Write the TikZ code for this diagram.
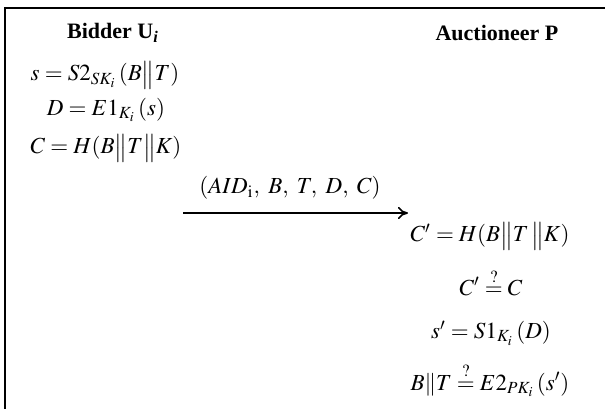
\documentclass[tikz,border=0pt]{standalone}
\usepackage{mathptmx}
\usepackage[no-math]{fontspec}
\setmainfont{Liberation Serif}
\usetikzlibrary{arrows.meta}
\tikzset{
  head/.style={font=\fontsize{11}{13}\selectfont\bfseries, anchor=center, inner sep=0pt},
  eq/.style={font=\fontsize{11.5}{13}\selectfont, anchor=center, inner sep=0pt},
  frame/.style={line width=1pt, black},
  msg/.style={line width=0.8pt, -{To[length=5pt,width=6pt]}},
}
\begin{document}
\begin{tikzpicture}[x=0.5pt,y=-0.5pt]
\useasboundingbox (0,0) rectangle (605,409);
\draw[frame] (605,8) -- (5,8) -- (5,409);
\node[head] (bidder) at (113,33) {Bidder U\textsubscript{\itshape i}};
\node[head] (auct) at (497,33) {Auctioneer P};
\node[eq] (b1) at (105,75) {$s=S2_{SK_i}\,(B\big\|T)$};
\node[eq] (b2) at (106,110) {$D=E1_{K_i}\,(s)$};
\node[eq] (b3) at (106,148) {$C=H(B\big\|T\big\|K)$};
\node[eq] (lab) at (290,188) {$(AID_{\mathrm{i}},\ B,\ T,\ D,\ C)$};
\coordinate (src) at (183,213);
\coordinate (dst) at (408,213);
\draw[msg] (src) -- (dst);
\node[eq] (a1) at (490,236) {$C'=H(B\big\|T\,\big\|K)$};
\node[eq] (a2) at (491,282) {$C'\stackrel{?}{=}C$};
\node[eq] (a3) at (491,333) {$s'=S1_{K_i}\,(D)$};
\node[eq] (a4) at (490,380) {$B\|T\stackrel{?}{=}E2_{PK_i}\,(s')$};
\end{tikzpicture}
\end{document}
